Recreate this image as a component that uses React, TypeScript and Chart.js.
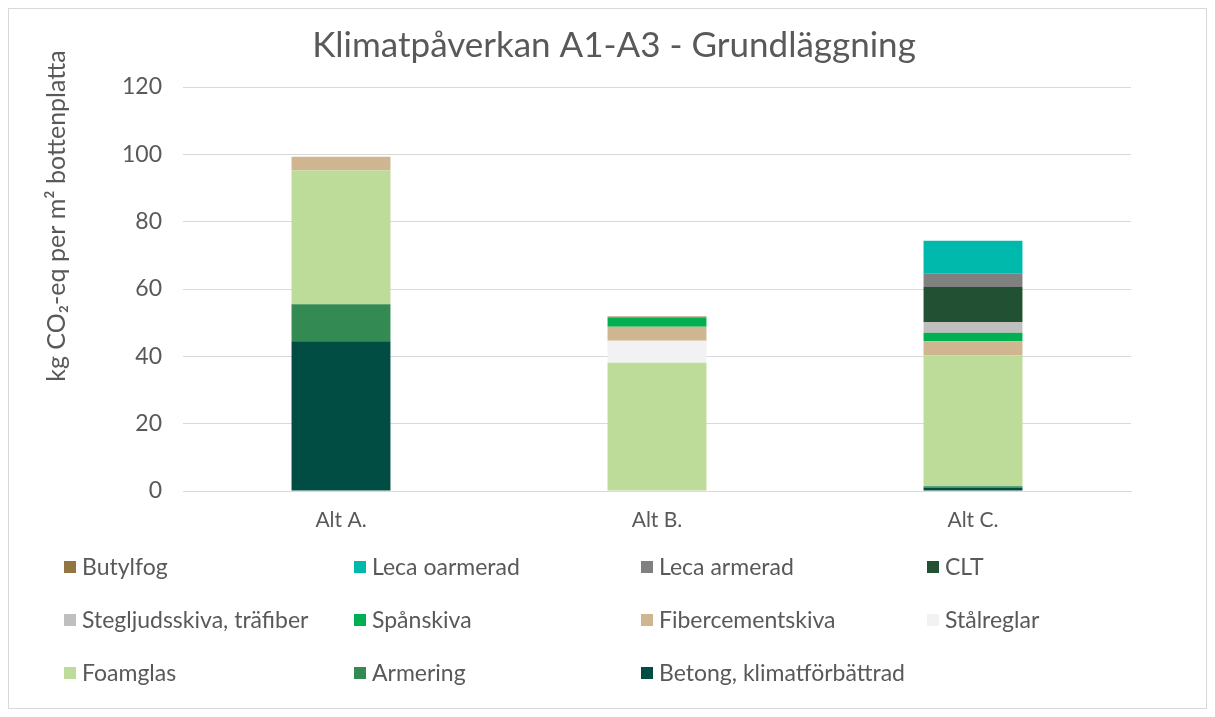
import React, { useEffect, useRef } from "react";
import { Chart, registerables } from "chart.js";

Chart.register(...registerables);

const categories = ["Alt A.", "Alt B.", "Alt C."];
const chartTitle = "Klimatpåverkan A1-A3 - Grundläggning";
const yAxisTitle = "kg CO₂-eq per m² bottenplatta";
const yTicks = [0, 20, 40, 60, 80, 100, 120];

// Series listed bottom of stack first
const betong = [44.5, 0, 1.0];
const armering = [11.0, 0, 0.4];
const foamglas = [39.7, 38.1, 38.9];
const stalreglar = [0, 6.5, 0];
const fibercement = [4.1, 4.2, 4.2];
const spanskiva = [0, 2.7, 2.5];
const stegljud = [0, 0, 3.2];
const clt = [0, 0, 10.4];
const lecaArmerad = [0, 0, 4.1];
const lecaOarmerad = [0, 0, 9.6];
const butylfog = [0, 0.3, 0];

const seriesNames = [
  "Betong, klimatförbättrad",
  "Armering",
  "Foamglas",
  "Stålreglar",
  "Fibercementskiva",
  "Spånskiva",
  "Stegljudsskiva, träfiber",
  "CLT",
  "Leca armerad",
  "Leca oarmerad",
  "Butylfog",
];
const seriesValues = [
  betong,
  armering,
  foamglas,
  stalreglar,
  fibercement,
  spanskiva,
  stegljud,
  clt,
  lecaArmerad,
  lecaOarmerad,
  butylfog,
];
const seriesColors = [
  "#014D44",
  "#338A53",
  "#BDDC99",
  "#F2F2F2",
  "#CFB690",
  "#00B050",
  "#BFBFBF",
  "#215132",
  "#808080",
  "#00B9AD",
  "#937542",
];

const FONT = "Lato, 'Open Sans', sans-serif";
const TEXT = "#595959";

const decorPlugin = {
  id: "excelDecor",
  afterDraw(chart: any) {
    const ctx = chart.ctx as CanvasRenderingContext2D;
    ctx.save();
    // title
    ctx.fillStyle = TEXT;
    ctx.font = `35px ${FONT}`;
    ctx.textAlign = "center";
    ctx.textBaseline = "alphabetic";
    ctx.fillText(chartTitle, 605, 48);

    // y axis title
    ctx.save();
    ctx.translate(48, 207);
    ctx.rotate(-Math.PI / 2);
    ctx.font = `25px ${FONT}`;
    ctx.textBaseline = "middle";
    ctx.fillText(yAxisTitle, 0, 0);
    ctx.restore();

    // legend (4 columns, reversed order)
    const cols = [55, 345, 632, 918];
    const rows = [558, 611, 664];
    const ds = chart.data.datasets.slice().reverse();
    ctx.font = `23px ${FONT}`;
    ctx.textAlign = "left";
    ctx.textBaseline = "middle";
    ds.forEach((d: any, i: number) => {
      const c = i % 4;
      const r = Math.floor(i / 4);
      const x = cols[c];
      const y = rows[r];
      ctx.fillStyle = d.backgroundColor;
      ctx.fillRect(x, y - 6, 12, 12);
      ctx.fillStyle = TEXT;
      ctx.fillText(d.label, x + 18, y + 1);
    });
    ctx.restore();
  },
};

export default function App() {
  const ref = useRef<HTMLCanvasElement | null>(null);
  useEffect(() => {
    if (!ref.current) return;
    const chart = new Chart(ref.current, {
      type: "bar",
      data: {
        labels: categories,
        datasets: seriesNames.map((name, i) => ({
          label: name,
          data: seriesValues[i],
          backgroundColor: seriesColors[i],
          borderWidth: 0,
          barPercentage: 1,
          categoryPercentage: 0.313,
        })),
      },
      options: {
        animation: false,
        responsive: true,
        maintainAspectRatio: false,
        layout: { padding: { top: 78, bottom: 167, left: 0, right: 75 } },
        plugins: {
          legend: { display: false },
          title: { display: false },
          tooltip: { enabled: false },
        },
        scales: {
          x: {
            stacked: true,
            grid: { display: false, drawTicks: false },
            border: { display: true, color: "#D9D9D9", width: 1 },
            ticks: { color: TEXT, font: { family: FONT, size: 21 }, padding: 17 },
            afterFit: (s: any) => {
              s.height = 50;
            },
          },
          y: {
            stacked: true,
            min: 0,
            max: 120,
            afterBuildTicks: (s: any) => {
              s.ticks = yTicks.map((v) => ({ value: v }));
            },
            grid: { color: "#D9D9D9", lineWidth: 1, drawTicks: false },
            border: { display: false },
            ticks: { color: TEXT, font: { family: FONT, size: 23 }, padding: 21 },
            afterFit: (s: any) => {
              s.width = 174;
            },
          },
        },
      },
      plugins: [decorPlugin],
    });
    return () => chart.destroy();
  }, []);
  return (
    <div
      style={{
        width: 1199,
        height: 701,
        border: "1px solid #D9D9D9",
        boxSizing: "border-box",
        position: "relative",
        background: "#fff",
      }}
    >
      <div style={{ position: "absolute", inset: 0 }}>
        <canvas ref={ref} />
      </div>
    </div>
  );
}
